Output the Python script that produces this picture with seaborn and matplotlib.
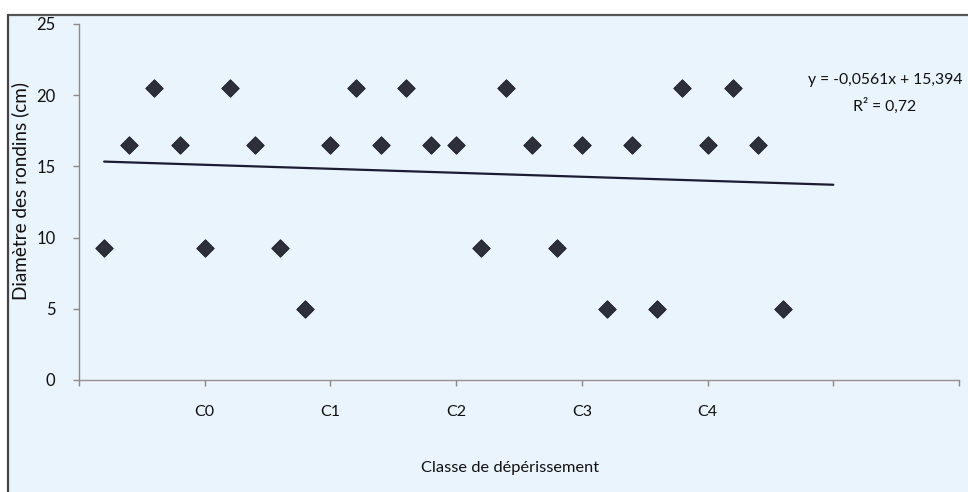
import matplotlib
matplotlib.use("Agg")
import matplotlib.pyplot as plt
from matplotlib.patches import Rectangle
import seaborn as sns
import pandas as pd

# Sampled logs, in order along the decline classes
log_position = [1, 2, 3, 4, 5, 6, 7, 8, 9, 10, 11, 12, 13, 14,
                15, 16, 17, 18, 19, 20, 21, 22, 23, 24, 25, 26, 27, 28]
log_diameter = [9.3, 16.5, 20.5, 16.5, 9.3, 20.5, 16.5, 9.3, 5.0, 16.5,
                20.5, 16.5, 20.5, 16.5, 16.5, 9.3, 20.5, 16.5, 9.3, 16.5,
                5.0, 16.5, 5.0, 20.5, 16.5, 20.5, 16.5, 5.0]

# Linear trend fitted on the logs
trend_slope = -0.0561
trend_intercept = 15.394
trend_r2 = 0.72
trend_x = [1, 30]

class_ticks = [0, 5, 10, 15, 20, 25, 30, 35]
class_labels = ["", "C0", "C1", "C2", "C3", "C4", "", ""]

sns.set_theme(style="white")
plt.rcParams["font.family"] = ["Lato", "DejaVu Sans"]

W, H = 968, 492
fig = plt.figure(figsize=(W / 100, H / 100), dpi=100)
fig.patch.set_facecolor("white")

bg = "#eaf4fc"
# chart frame
fig.patches.append(Rectangle((8 / W, 0), 1, 1 - 15 / H, transform=fig.transFigure,
                             facecolor=bg, edgecolor="none", zorder=-5))
fig.lines.append(plt.Line2D([8 / W, 1], [1 - 15 / H, 1 - 15 / H], transform=fig.transFigure,
                            color="#555555", lw=1.6, zorder=-4))
fig.lines.append(plt.Line2D([8 / W, 8 / W], [0, 1 - 15 / H], transform=fig.transFigure,
                            color="#444444", lw=1.6, zorder=-4))

ax = fig.add_axes([79 / W, 1 - 380 / H, (959 - 79) / W, (380 - 24) / H])
ax.set_facecolor("none")
ax.set_zorder(2)

df = pd.DataFrame({"pos": log_position, "diam": log_diameter})
sns.scatterplot(data=df, x="pos", y="diam", marker="D", s=80, color="#2d2f3a",
                edgecolor="#1c1d26", linewidth=0.6, ax=ax, zorder=3)

trend_df = pd.DataFrame({"x": trend_x,
                         "y": [trend_slope * v + trend_intercept for v in trend_x]})
sns.lineplot(data=trend_df, x="x", y="y", color="#1b1b33", lw=1.6, ax=ax, zorder=2)

ax.set_xlim(0, 35)
ax.set_ylim(0, 25)
ax.set_xticks(class_ticks)
ax.set_xticklabels(class_labels)
ax.set_yticks([0, 5, 10, 15, 20, 25])
ax.set_xlabel("")
ax.set_ylabel("")

for s in ["top", "right"]:
    ax.spines[s].set_visible(False)
ax.spines["left"].set_color("#8a8a8a")
ax.spines["bottom"].set_color("#9a8e8e")
ax.spines["left"].set_linewidth(1.0)
ax.spines["bottom"].set_linewidth(1.0)

ax.tick_params(axis="x", direction="out", length=4, width=1, color="#8a8a8a",
               pad=14, labelsize=11.5, labelcolor="#111111")
ax.tick_params(axis="y", direction="out", length=4, width=1, color="#8a8a8a",
               pad=13, labelsize=12, labelcolor="#111111")
ax.tick_params(bottom=True, left=True)

fig.text(510 / W, 1 - 468 / H, "Classe de dépérissement", ha="center", va="center",
         fontsize=11.8, color="#111111")
fig.text(20 / W, 1 - 191 / H, "Diamètre des rondins (cm)", ha="center", va="center",
         rotation=90, fontsize=13.6, color="#111111")

fig.text(885 / W, 1 - 80 / H, "y = -0,0561x + 15,394", ha="center", va="center",
         fontsize=11.3, color="#111111")
fig.text(885 / W, 1 - 106 / H, f"R² = {trend_r2:.2f}".replace(".", ","), ha="center",
         va="center", fontsize=11.3, color="#111111")

fig.savefig("out.png", dpi=100, facecolor="white")
